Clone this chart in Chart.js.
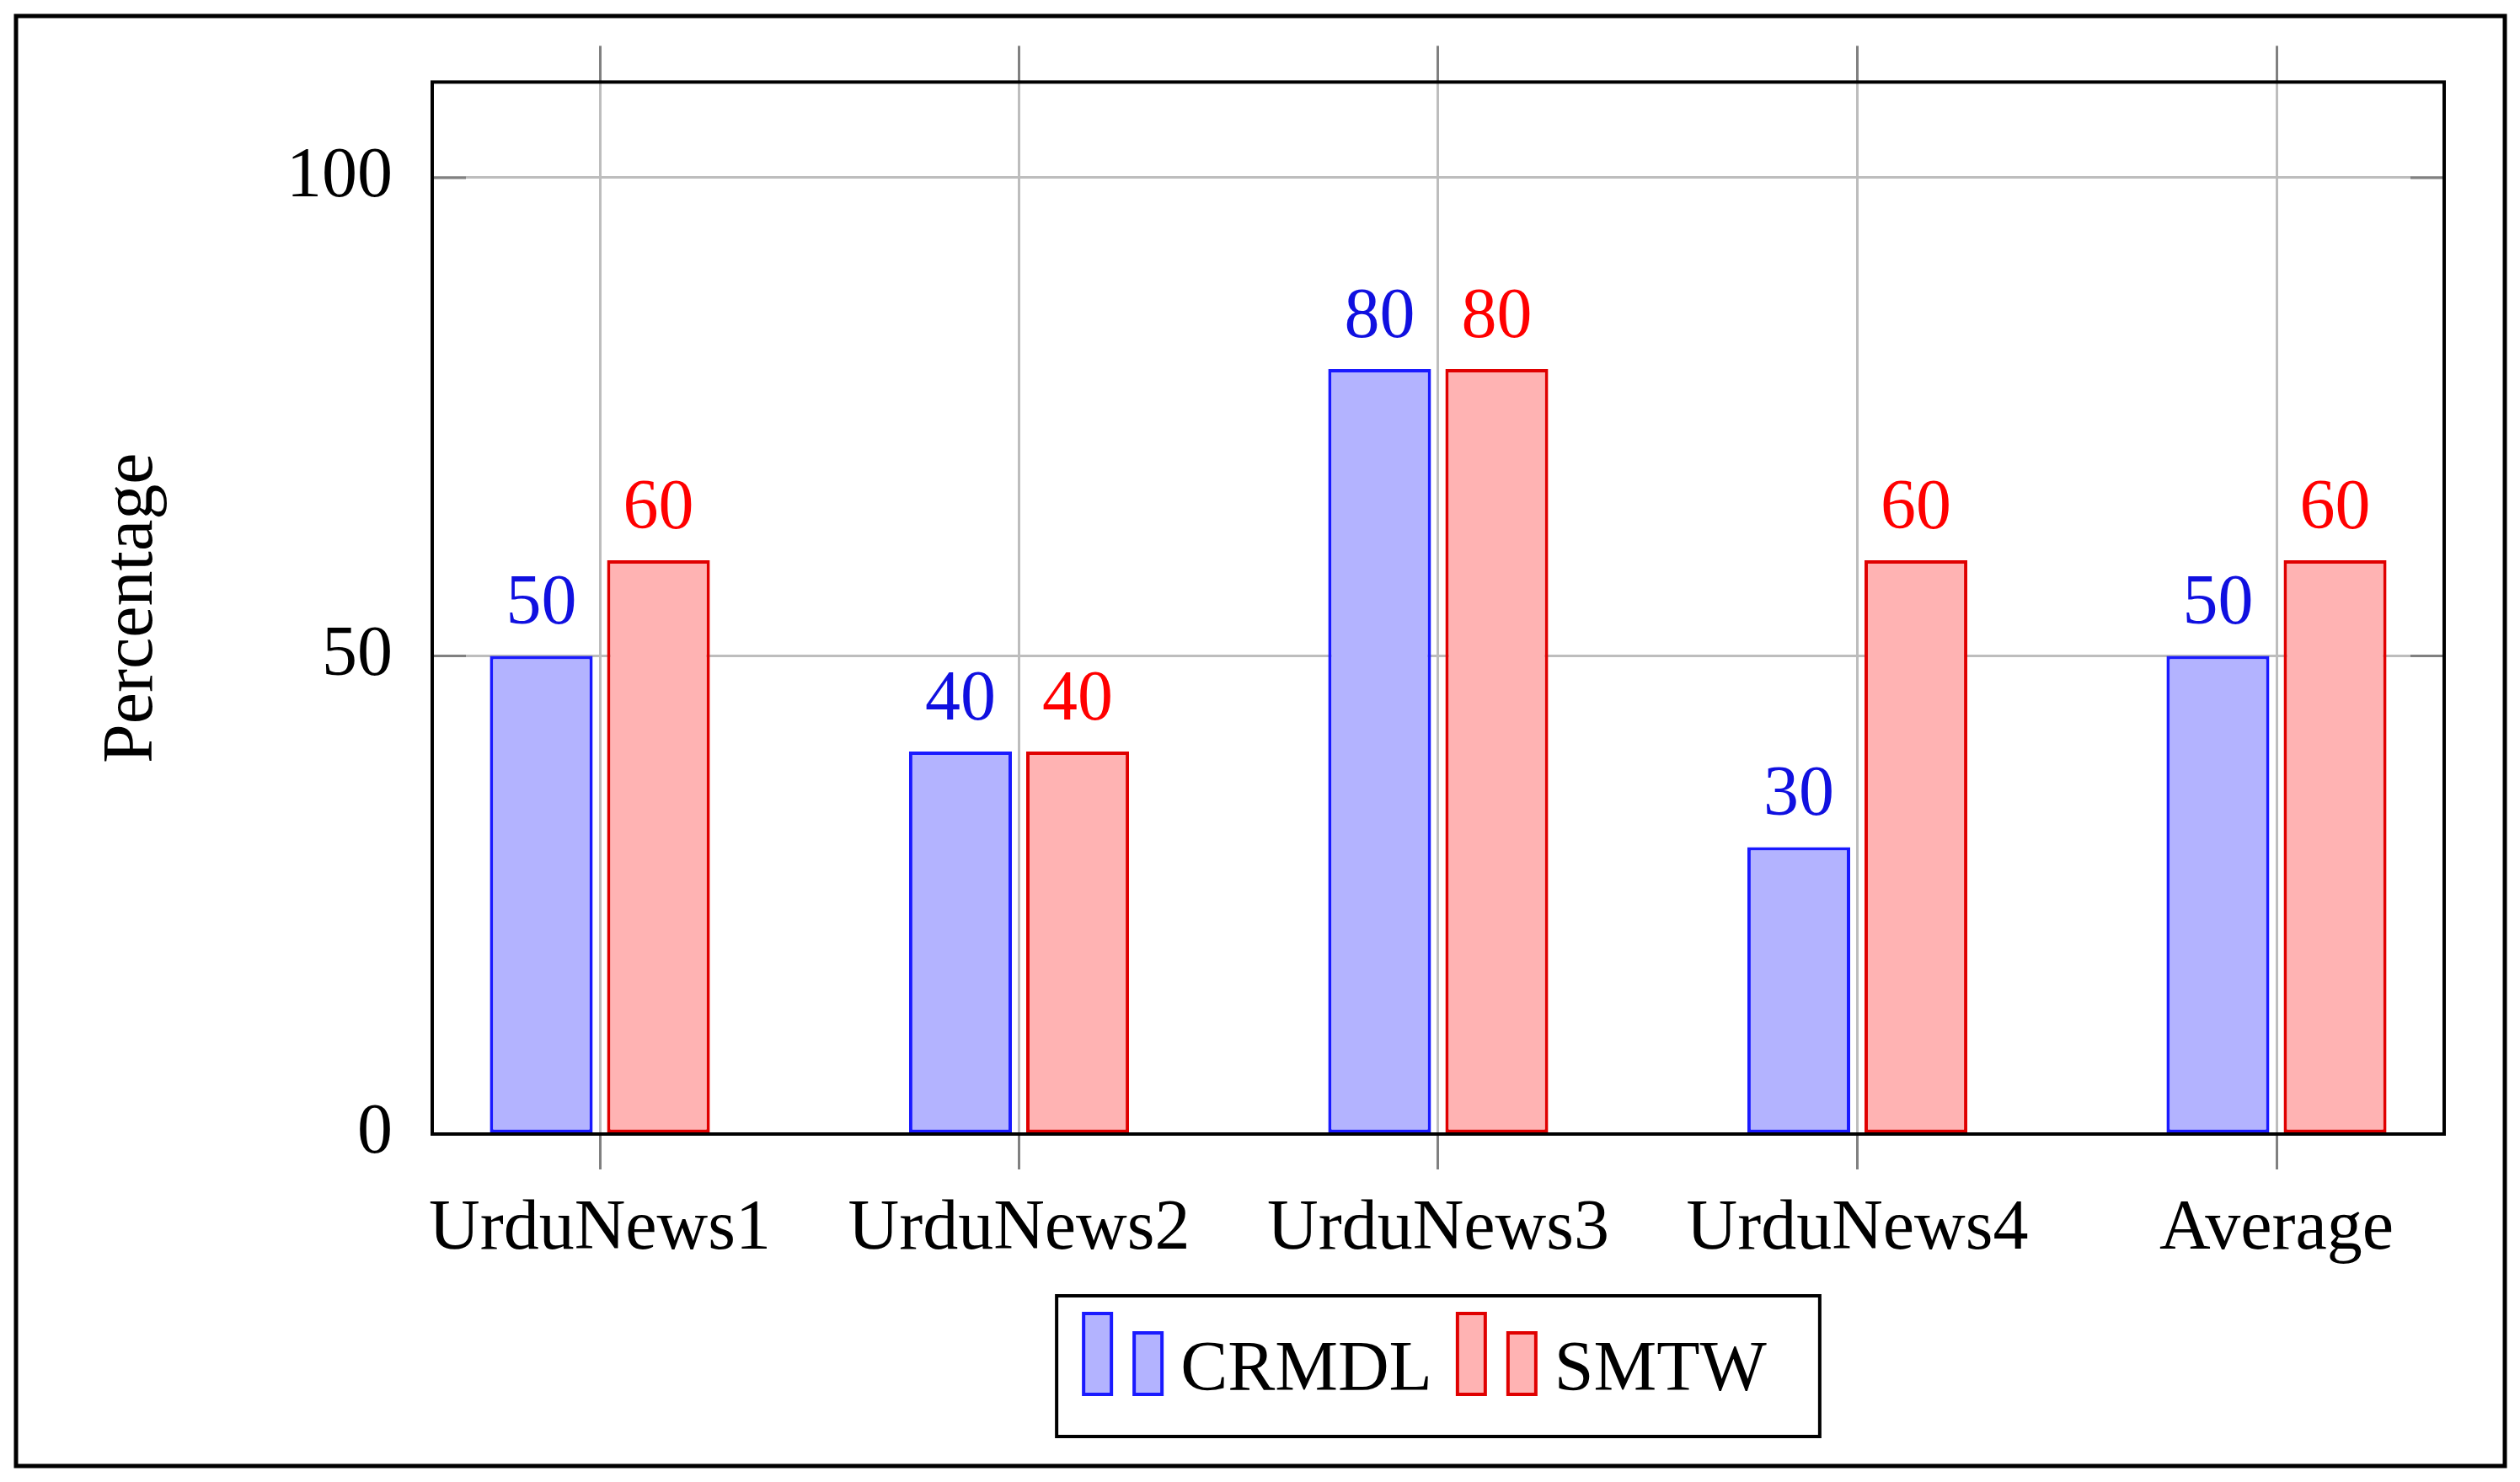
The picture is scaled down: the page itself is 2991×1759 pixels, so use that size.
<!DOCTYPE html>
<html><head><meta charset="utf-8">
<script src="https://cdn.jsdelivr.net/npm/chart.js@4.4.1/dist/chart.umd.min.js"></script>
<style>html,body{margin:0;padding:0;background:#fff;} canvas{display:block;}</style>
</head><body>
<canvas id="c" width="2991" height="1759"></canvas>
<script>
const categories = ['UrduNews1', 'UrduNews2', 'UrduNews3', 'UrduNews4', 'Average'];
const crmdl = [50, 40, 80, 30, 50];
const smtw = [60, 40, 80, 60, 60];
const yTicks = [0, 50, 100];
const seriesNames = ['CRMDL', 'SMTW'];

const FONT = "'Liberation Serif', 'Times New Roman', serif";
const FS = 84;
const fills = ['#b3b3ff', '#ffb3b3'];
const strokes = ['#1a1aff', '#e00000'];
const labelColors = ['#1010e0', '#ff0000'];

const catTicks = (s) => { s.ticks = categories.map((c, i) => ({ value: i })); };

const deco = {
  id: 'deco',
  beforeDraw(chart) {
    const ctx = chart.ctx;
    ctx.save();
    ctx.fillStyle = '#fff';
    ctx.fillRect(0, 0, chart.width, chart.height);
    ctx.restore();
  },
  afterDatasetsDraw(chart) {
    const { ctx, chartArea: a, scales: { y } } = chart;
    ctx.save();
    // inner y ticks
    ctx.strokeStyle = '#808080';
    ctx.lineWidth = 3;
    yTicks.forEach(v => {
      const py = y.getPixelForValue(v);
      ctx.beginPath();
      ctx.moveTo(a.left, py); ctx.lineTo(a.left + 40, py);
      ctx.moveTo(a.right, py); ctx.lineTo(a.right - 40, py);
      ctx.stroke();
    });
    // plot frame
    ctx.strokeStyle = '#000';
    ctx.lineWidth = 4;
    ctx.strokeRect(a.left, a.top, a.right - a.left, a.bottom - a.top);
    // data labels
    ctx.font = FS + 'px ' + FONT;
    ctx.textAlign = 'center';
    ctx.textBaseline = 'alphabetic';
    chart.data.datasets.forEach((ds, di) => {
      const meta = chart.getDatasetMeta(di);
      ctx.fillStyle = labelColors[di];
      meta.data.forEach((bar, i) => {
        ctx.fillText(String(ds.data[i].y), bar.x, bar.y - 38);
      });
    });
    // outer frame
    ctx.lineWidth = 5;
    ctx.strokeStyle = '#000';
    ctx.strokeRect(19, 19, 2954, 1721);
    // legend
    ctx.font = FS + 'px ' + FONT;
    ctx.textAlign = 'left';
    const widths = seriesNames.map(n => ctx.measureText(n).width);
    const iconW = 93, iconGap = 22, itemGap = 30;
    let content = 0;
    widths.forEach((w, i) => { content += iconW + iconGap + w + (i < widths.length - 1 ? itemGap : 0); });
    const boxW = content + 95, boxH = 167;
    const cx = (a.left + a.right) / 2;
    const bx = cx - boxW / 2, by = a.bottom + 192;
    ctx.fillStyle = '#fff';
    ctx.fillRect(bx, by, boxW, boxH);
    ctx.lineWidth = 4;
    ctx.strokeStyle = '#000';
    ctx.strokeRect(bx, by, boxW, boxH);
    let x = bx + 32;
    seriesNames.forEach((n, i) => {
      ctx.fillStyle = fills[i];
      ctx.strokeStyle = strokes[i];
      ctx.lineWidth = 4;
      ctx.fillRect(x, by + 21, 33, 96); ctx.strokeRect(x, by + 21, 33, 96);
      ctx.fillRect(x + 60, by + 44, 33, 73); ctx.strokeRect(x + 60, by + 44, 33, 73);
      ctx.fillStyle = '#000';
      ctx.fillText(n, x + iconW + iconGap, by + 112);
      x += iconW + iconGap + widths[i] + itemGap;
    });
    ctx.restore();
  }
};

new Chart(document.getElementById('c'), {
  type: 'bar',
  data: {
    datasets: [
      { label: seriesNames[0], data: crmdl.map((v, i) => ({ x: i, y: v })), backgroundColor: fills[0], borderColor: strokes[0], borderWidth: 4, borderSkipped: false },
      { label: seriesNames[1], data: smtw.map((v, i) => ({ x: i, y: v })), backgroundColor: fills[1], borderColor: strokes[1], borderWidth: 4, borderSkipped: false }
    ]
  },
  options: {
    responsive: false,
    animation: false,
    devicePixelRatio: 1,
    categoryPercentage: 0.559,
    barPercentage: 0.878,
    layout: { padding: { left: 0, right: 90, top: 0, bottom: 0 } },
    plugins: { legend: { display: false }, tooltip: { enabled: false } },
    scales: {
      x: {
        type: 'linear', position: 'bottom', min: -0.4, max: 4.4, offset: false,
        afterBuildTicks: catTicks,
        afterFit: s => { s.height = 413; },
        grid: { offset: false, color: '#bdbdbd', lineWidth: 3, drawTicks: true, tickLength: 42, tickColor: '#808080', tickWidth: 3 },
        border: { display: false },
        ticks: { callback: v => categories[v], font: { family: FONT, size: FS }, color: '#000', padding: 22, maxRotation: 0, autoSkip: false }
      },
      x2: {
        type: 'linear', position: 'top', min: -0.4, max: 4.4, offset: false,
        afterBuildTicks: catTicks,
        afterFit: s => { s.height = 94; },
        grid: { offset: false, drawOnChartArea: false, drawTicks: true, tickLength: 43, tickColor: '#808080', tickWidth: 3 },
        border: { display: false },
        ticks: { display: false }
      },
      y: {
        min: 0, max: 110,
        afterBuildTicks: s => { s.ticks = yTicks.map(v => ({ value: v })); },
        afterFit: s => { s.width = 513; },
        grid: { color: '#bdbdbd', lineWidth: 3, drawTicks: false },
        border: { display: false },
        ticks: { font: { family: FONT, size: FS }, color: '#000', padding: 47 },
        title: { display: true, text: 'Percentage', color: '#000', font: { family: FONT, size: FS, lineHeight: 1 }, padding: { top: 116, bottom: 0 } }
      }
    }
  },
  plugins: [deco]
});
</script>
</body></html>
